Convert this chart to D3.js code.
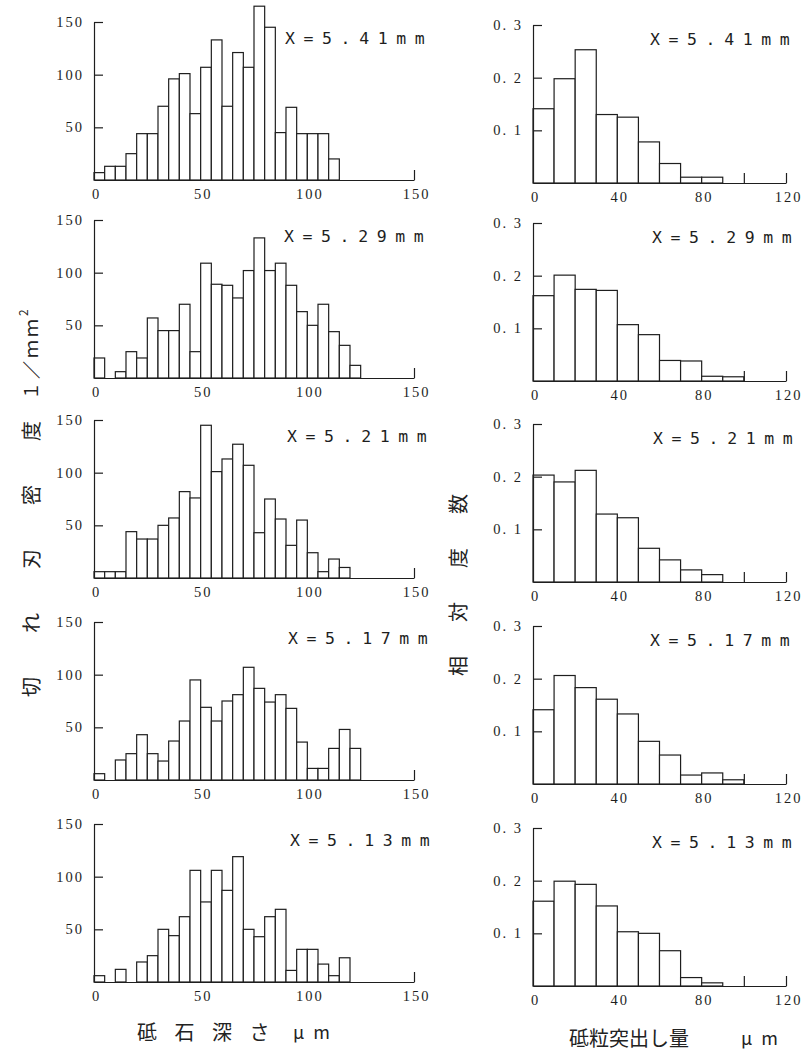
<!DOCTYPE html>
<html><head><meta charset="utf-8">
<script src="https://cdn.jsdelivr.net/npm/d3@7/dist/d3.min.js"></script>
<style>
html,body{margin:0;padding:0;background:#fff;}
svg{display:block;}
.lbl{font-family:"Noto Sans CJK JP","Noto Sans",sans-serif;fill:#222;}
</style></head>
<body>
<svg id="c" width="806" height="1061"></svg>
<script>
// ---- data ----
const panelLabels = ["X=5.41mm","X=5.29mm","X=5.21mm","X=5.17mm","X=5.13mm"];
// left: cutting-edge density (1/mm^2) per 5 µm bin of wheel depth, starting at 0
const depthBinWidth = 5;
const density541 = [7,13,13,25,44,44,70,96,101,63,107,133,70,121,107,165,145,45,69,44,44,44,20];
const density529 = [19,0,6,25,19,57,45,45,70,25,109,89,88,76,102,133,102,109,88,63,50,70,44,31,12];
const density521 = [6,6,6,44,37,37,50,57,82,76,145,101,113,127,107,43,75,56,31,55,24,6,18,10];
const density517 = [6,0,19,25,43,25,18,37,56,95,69,56,75,81,107,87,74,81,68,36,11,11,30,48,30];
const density513 = [6,0,12,0,19,25,50,44,62,106,76,106,87,119,50,43,62,69,11,31,31,17,6,23];
// right: relative frequency per 10 µm bin of grain protrusion
const protBinWidth = 10;
const relfreq541 = [0.141,0.198,0.253,0.130,0.125,0.078,0.037,0.011,0.011,0,0,0];
const relfreq529 = [0.162,0.201,0.174,0.172,0.107,0.088,0.039,0.038,0.009,0.008,0,0];
const relfreq521 = [0.203,0.190,0.212,0.129,0.122,0.064,0.042,0.023,0.014,0,0,0];
const relfreq517 = [0.141,0.206,0.183,0.161,0.133,0.081,0.055,0.017,0.021,0.008,0,0];
const relfreq513 = [0.161,0.199,0.193,0.152,0.103,0.100,0.067,0.016,0.006,0,0,0];
// ticks
const leftXTicks = [0,50,100,150];
const leftYTicks = [50,100,150];
const leftXDomain = [0,150];
const leftYDomain = [0,150];
const leftEndTicks = [150];
const rightXTicks = [0,40,80,120];
const rightYTicks = [0.1,0.2,0.3];
const rightYTickLabels = ["0. 1","0. 2","0. 3"];
const rightXDomain = [0,120];
const rightYDomain = [0,0.3];
const rightEndTicks = [100,120];
const leftYTitleA = "切れ刃密度";
const leftYTitleB = "１／ｍｍ";
const rightYTitle = "相対度数";
const leftXTitleA = "砥石深さ";
const rightXTitleA = "砥粒突出し量";
const unitTitle = "μm";

const leftSeries = [density541,density529,density521,density517,density513];
const rightSeries = [relfreq541,relfreq529,relfreq521,relfreq517,relfreq513];

// ---- layout ----
const svg = d3.select("#c");
const ink = "#1e1e1e";
const tickFont = "'Liberation Serif','DejaVu Serif',serif";
const L = {x0:94, x1:414, tops:[22,220,420,622,824], h:158, lx:[285,284,287,288,290]};
const R = {x0:533, x1:786, tops:[25,223,424,626,828], h:158, lx:[650,652,653,650,652]};

function panel(cfg, row, values, binW, xDom, yDom, xTicks, yTicks, yFmt, endTicks, label, labelDy){
  const top = cfg.tops[row], base = top + cfg.h;
  const x = d3.scaleLinear().domain(xDom).range([cfg.x0, cfg.x1]);
  const y = d3.scaleLinear().domain(yDom).range([base, top]);
  const g = svg.append("g");
  g.selectAll("rect").data(values.map((v,i)=>({v,i})).filter(d=>d.v>0)).join("rect")
    .attr("x", d=>x(d.i*binW)).attr("width", d=>x((d.i+1)*binW)-x(d.i*binW))
    .attr("y", d=>y(d.v)).attr("height", d=>y(0)-y(d.v))
    .attr("fill","#fff").attr("stroke",ink).attr("stroke-width",1.2);
  g.append("g").attr("transform",`translate(${cfg.x0},0)`)
    .call(d3.axisLeft(y).tickValues(yTicks).tickFormat(yFmt).tickSizeInner(-9).tickSizeOuter(0).tickPadding(10));
  const xa = g.append("g").attr("transform",`translate(0,${base})`)
    .call(d3.axisBottom(x).tickValues(xTicks).tickSizeInner(0).tickSizeOuter(0).tickPadding(9));
  g.append("g").attr("transform",`translate(0,${base})`)
    .call(d3.axisBottom(x).tickValues(endTicks).tickFormat("").tickSizeInner(-10).tickSizeOuter(0))
    .select(".domain").remove();
  g.selectAll(".domain, .tick line").attr("stroke",ink).attr("stroke-width",1.2);
  g.selectAll(".tick text").attr("font-family",tickFont).attr("font-size",14.5)
    .attr("letter-spacing",2).attr("fill",ink);
  xa.selectAll(".tick text").attr("dx","2");
  g.append("text").attr("x",cfg.lx[row]).attr("y",top+labelDy)
    .attr("dominant-baseline","central")
    .attr("font-family","'DejaVu Sans Mono','Liberation Mono',monospace")
    .attr("font-size",16.5).attr("letter-spacing",8.6).attr("fill",ink).text(label);
}

for(let r=0;r<5;r++){
  panel(L, r, leftSeries[r], depthBinWidth, leftXDomain, leftYDomain, leftXTicks, leftYTicks, d=>d, leftEndTicks, panelLabels[r], 16);
  panel(R, r, rightSeries[r], protBinWidth, rightXDomain, rightYDomain, rightXTicks, rightYTicks, (d,i)=>rightYTickLabels[i], rightEndTicks, panelLabels[r], 14);
}

// axis titles
svg.append("text").attr("class","lbl").attr("transform","translate(30,697) rotate(-90)")
  .attr("font-size",20).attr("dominant-baseline","central").attr("letter-spacing",44).text(leftYTitleA);
const t2 = svg.append("text").attr("class","lbl").attr("transform","translate(30,400) rotate(-90)")
  .attr("font-size",18).attr("dominant-baseline","central").attr("letter-spacing",3);
t2.append("tspan").text(leftYTitleB);
t2.append("tspan").attr("font-size",12).attr("dy",-8).text("2");

svg.append("text").attr("class","lbl").attr("transform","translate(457,676) rotate(-90)")
  .attr("font-size",20).attr("dominant-baseline","central").attr("letter-spacing",34).text(rightYTitle);

svg.append("text").attr("class","lbl").attr("x",137).attr("y",1031).attr("font-size",20)
  .attr("dominant-baseline","central").attr("letter-spacing",17.5).text(leftXTitleA);
svg.append("text").attr("class","lbl").attr("x",293).attr("y",1031).attr("font-size",18)
  .attr("dominant-baseline","central").attr("letter-spacing",9).text(unitTitle);
svg.append("text").attr("class","lbl").attr("x",569).attr("y",1037).attr("font-size",20)
  .attr("dominant-baseline","central").text(rightXTitleA);
svg.append("text").attr("class","lbl").attr("x",741).attr("y",1037).attr("font-size",18)
  .attr("dominant-baseline","central").attr("letter-spacing",9).text(unitTitle);
</script>
</body></html>
